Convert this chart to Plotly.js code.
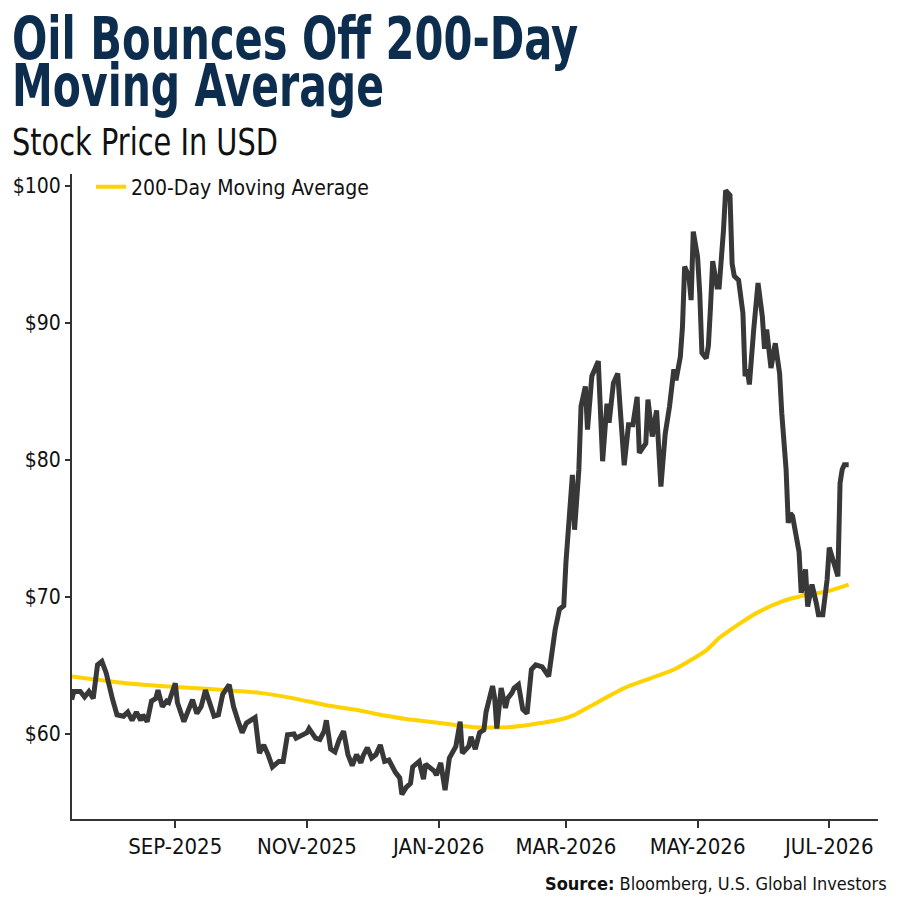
<!DOCTYPE html>
<html>
<head>
<meta charset="utf-8">
<script src="https://cdn.plot.ly/plotly-3.0.1.min.js"></script>
<style>
  html, body { margin: 0; padding: 0; background: #ffffff; }
  #chart { width: 900px; height: 900px; }
</style>
</head>
<body>
<div id="chart"></div>
<script>
// Daily oil price (USD) and its 200-day moving average
const priceDates = [
  '2025-07-15','2025-07-16','2025-07-19','2025-07-21','2025-07-23','2025-07-25','2025-07-27','2025-07-29','2025-07-31',
  '2025-08-02','2025-08-03','2025-08-05','2025-08-08','2025-08-10','2025-08-12','2025-08-14','2025-08-16','2025-08-17',
  '2025-08-19','2025-08-21','2025-08-23','2025-08-24','2025-08-26','2025-08-28','2025-08-29',
  '2025-09-01','2025-09-02','2025-09-05','2025-09-07','2025-09-09','2025-09-11','2025-09-13','2025-09-15','2025-09-17',
  '2025-09-19','2025-09-21','2025-09-23','2025-09-26','2025-09-28','2025-09-30',
  '2025-10-02','2025-10-04','2025-10-06','2025-10-08','2025-10-10','2025-10-12','2025-10-14','2025-10-16','2025-10-19',
  '2025-10-21','2025-10-23','2025-10-26','2025-10-27','2025-10-30',
  '2025-11-01','2025-11-02','2025-11-05','2025-11-07','2025-11-09','2025-11-10','2025-11-12','2025-11-14','2025-11-16',
  '2025-11-18','2025-11-20','2025-11-22','2025-11-24','2025-11-26','2025-11-27','2025-11-29',
  '2025-12-01','2025-12-03','2025-12-05','2025-12-07','2025-12-09','2025-12-12','2025-12-14','2025-12-15','2025-12-17',
  '2025-12-19','2025-12-20','2025-12-23','2025-12-25','2025-12-26','2025-12-28','2025-12-30','2025-12-31',
  '2026-01-02','2026-01-04','2026-01-06','2026-01-09','2026-01-11','2026-01-12','2026-01-15','2026-01-16','2026-01-18',
  '2026-01-20','2026-01-22','2026-01-23','2026-01-26','2026-01-27','2026-01-28','2026-01-30',
  '2026-02-01','2026-02-02','2026-02-04','2026-02-05','2026-02-07','2026-02-09','2026-02-11','2026-02-13','2026-02-15',
  '2026-02-18','2026-02-21','2026-02-24','2026-02-26','2026-02-28',
  '2026-03-01','2026-03-04','2026-03-05','2026-03-07','2026-03-08','2026-03-10','2026-03-11','2026-03-13','2026-03-16',
  '2026-03-18','2026-03-20','2026-03-21','2026-03-23','2026-03-25','2026-03-28','2026-03-30',
  '2026-04-01','2026-04-03','2026-04-04','2026-04-07','2026-04-08','2026-04-10','2026-04-12','2026-04-14','2026-04-16',
  '2026-04-18','2026-04-20','2026-04-21','2026-04-23','2026-04-24','2026-04-25','2026-04-27','2026-04-28','2026-04-29',
  '2026-05-01','2026-05-02','2026-05-03','2026-05-05','2026-05-06','2026-05-07','2026-05-08','2026-05-10','2026-05-11',
  '2026-05-13','2026-05-14','2026-05-16','2026-05-17','2026-05-18','2026-05-20','2026-05-22','2026-05-23','2026-05-24',
  '2026-05-25','2026-05-27','2026-05-29','2026-05-31',
  '2026-06-01','2026-06-02','2026-06-04','2026-06-06','2026-06-08','2026-06-09','2026-06-11','2026-06-12','2026-06-13',
  '2026-06-14','2026-06-16','2026-06-17','2026-06-18','2026-06-20','2026-06-21','2026-06-23','2026-06-25','2026-06-26',
  '2026-06-28','2026-06-30',
  '2026-07-01','2026-07-03','2026-07-05','2026-07-06','2026-07-07','2026-07-08','2026-07-10'
];
const priceValues = [
  62.5, 63.1, 63.1, 62.7, 63.1, 62.6, 65.05, 65.3, 64.45,
  62.9, 62.5, 61.4, 61.3, 61.6, 61.0, 61.6, 61.0, 61.4,
  60.9, 62.4, 62.6, 63.2, 62.0, 62.4, 62.3,
  63.7, 62.3, 60.9, 61.6, 62.5, 61.5, 62.0, 63.2, 62.3,
  61.3, 61.4, 62.9, 63.6, 62.0, 61.0,
  60.1, 60.8, 61.0, 61.2, 58.6, 59.2, 58.5, 57.6, 58.0,
  58.0, 59.95, 60.0, 59.7, 59.95,
  60.1, 60.4, 59.7, 59.6, 60.2, 61.0, 58.9, 58.7, 59.6,
  60.2, 58.5, 57.7, 58.5, 57.9, 58.4, 59.0,
  58.25, 58.5, 59.2, 58.0, 58.1, 57.2, 56.8, 55.6, 56.1,
  56.4, 57.6, 58.0, 56.7, 57.8, 57.5, 57.3, 57.0,
  57.9, 55.9, 58.25, 59.1, 60.9, 58.6, 59.1, 59.8, 58.9,
  60.1, 60.3, 61.6, 63.5, 62.6, 60.4, 63.35,
  61.9, 62.6, 63.0, 63.35, 63.6, 61.8, 61.5, 64.7, 65.05,
  64.9, 64.2, 67.6, 69.1, 69.35,
  72.5, 78.9, 74.9, 79.3, 83.9, 85.35, 82.2, 86.1, 87.2,
  79.9, 84.1, 82.7, 85.6, 86.3, 79.6, 82.55,
  82.55, 84.6, 80.5, 81.2, 84.4, 81.7, 83.6, 78.05, 81.9,
  83.9, 86.6, 85.8, 87.5, 89.7, 94.1, 93.35, 91.65, 96.65,
  94.8, 92.15, 87.8, 87.4, 88.3, 91.2, 94.5, 92.6, 92.6,
  96.75, 99.65, 99.3, 94.3, 93.4, 93.1, 90.7, 86.1, 86.6,
  85.5, 89.5, 92.9, 90.45,
  88.1, 89.5, 86.7, 88.5, 86.3, 83.4, 79.3, 75.4, 76.1,
  75.9, 73.9, 73.3, 70.3, 72.0, 69.3, 70.9, 69.55, 68.7,
  68.7, 71.25,
  73.6, 72.5, 71.5, 78.3, 79.3, 79.65, 79.65
];

const maDates = [
  '2025-07-15','2025-07-25','2025-08-09','2025-08-25','2025-09-09','2025-09-25','2025-10-10','2025-10-26',
  '2025-11-10','2025-11-26','2025-12-02','2025-12-17','2026-01-02','2026-01-17','2026-02-02','2026-02-09',
  '2026-02-17','2026-02-25','2026-03-05','2026-03-12','2026-03-28','2026-04-20','2026-05-05','2026-05-11',
  '2026-05-21','2026-05-28','2026-06-08','2026-06-19','2026-06-30','2026-07-10'
];
const maValues = [
  64.2, 64.0, 63.7, 63.5, 63.35, 63.2, 63.0, 62.6,
  62.1, 61.7, 61.5, 61.1, 60.8, 60.5, 60.5, 60.6,
  60.8, 61.0, 61.4, 62.0, 63.35, 64.7, 66.1, 67.0,
  68.1, 68.8, 69.6, 70.1, 70.4, 70.9
];

const monthTicks = ['2025-09-01','2025-11-01','2026-01-01','2026-03-01','2026-05-01','2026-07-01'];
const monthLabels = ['SEP-2025','NOV-2025','JAN-2026','MAR-2026','MAY-2026','JUL-2026'];
const priceTicks = [60, 70, 80, 90, 100];
const priceLabels = ['$60', '$70', '$80', '$90', '$100'];

const NARROW = '"Liberation Sans Narrow", "DejaVu Sans Condensed", "Roboto Condensed", "Arial Narrow", sans-serif';
const NAVY = '#0c2d4d';
const INK = '#111111';

const traces = [
  {
    x: maDates, y: maValues, type: 'scatter', mode: 'lines',
    name: '200-Day Moving Average',
    line: { color: '#FFD200', width: 4, shape: 'spline', smoothing: 0.6 },
    showlegend: true, hoverinfo: 'skip'
  },
  {
    x: priceDates, y: priceValues, type: 'scatter', mode: 'lines',
    name: 'Oil Price',
    line: { color: '#383838', width: 5, shape: 'linear' },
    showlegend: false, hoverinfo: 'skip'
  }
];

// margins place the plot area between x 72..878 and y 174..819
const M = { l: 72, r: 22, t: 174, b: 81 };
const PW = 900 - M.l - M.r, PH = 900 - M.t - M.b;
const px = v => (v - M.l) / PW;
const py = v => (900 - M.b - v) / PH;

// headline: two tightly set lines of condensed bold lettering
const HEAD_SIZE = 59;
const HEAD_LINE_GAP = 47;              // baseline-to-baseline distance
const HEAD_WIDTHS = [566, 372];        // set width of each headline line
const SUB_WIDTH = 266;                 // set width of the subtitle

const layout = {
  width: 900, height: 900,
  margin: M,
  paper_bgcolor: '#ffffff', plot_bgcolor: '#ffffff',
  showlegend: true,
  legend: {
    x: px(91), y: py(187), xanchor: 'left', yanchor: 'middle',
    bgcolor: 'rgba(0,0,0,0)', borderwidth: 0,
    font: { family: NARROW, size: 21, color: INK },
    itemwidth: 30
  },
  xaxis: {
    type: 'date',
    range: ['2025-07-15 04:00', '2026-07-23 14:00'],
    tickmode: 'array', tickvals: monthTicks, ticktext: monthLabels,
    ticks: 'outside', ticklen: 7, tickwidth: 2, tickcolor: '#333333',
    showline: true, linecolor: '#333333', linewidth: 2,
    showgrid: false, zeroline: false,
    tickfont: { family: NARROW, size: 22, color: INK },
    fixedrange: true
  },
  yaxis: {
    range: [53.8, 100.85],
    tickmode: 'array', tickvals: priceTicks, ticktext: priceLabels,
    ticks: 'outside', ticklen: 5, tickwidth: 2, tickcolor: '#333333',
    showline: true, linecolor: '#333333', linewidth: 2,
    showgrid: false, zeroline: false,
    tickfont: { family: NARROW, size: 21, color: INK },
    fixedrange: true
  },
  annotations: [
    {
      text: 'Oil Bounces Off 200-Day<br>Moving Average', xref: 'paper', yref: 'paper',
      x: px(10), y: py(2), xanchor: 'left', yanchor: 'top', align: 'left', showarrow: false,
      font: { family: NARROW, size: HEAD_SIZE, weight: 'bold', color: NAVY }
    },
    {
      text: 'Stock Price In USD', xref: 'paper', yref: 'paper',
      x: px(10), y: py(142.2), xanchor: 'left', yanchor: 'middle', align: 'left', showarrow: false,
      font: { family: NARROW, size: 37, color: INK }
    },
    {
      text: '<b>Source:</b> Bloomberg, U.S. Global Investors', xref: 'paper', yref: 'paper',
      x: px(889), y: py(883), xanchor: 'right', yanchor: 'middle', showarrow: false,
      font: { family: NARROW, size: 18, color: INK }
    }
  ]
};

Plotly.newPlot('chart', traces, layout, { displayModeBar: false, staticPlot: true }).then(gd => {
  const squeeze = (el, w) => {
    el.setAttribute('textLength', w);
    el.setAttribute('lengthAdjust', 'spacingAndGlyphs');
  };
  // headline: condensed set widths and a tight line gap
  const head = gd.querySelector('.annotation[data-index="0"] text.annotation-text');
  if (head) {
    const lines = head.querySelectorAll('tspan.line');
    if (lines.length === 2) {
      const dy0 = lines[0].getAttribute('dy') || '0';
      const first = dy0.indexOf('em') >= 0 ? parseFloat(dy0) * HEAD_SIZE : (parseFloat(dy0) || 0);
      lines[1].setAttribute('dy', first + HEAD_LINE_GAP);
      lines.forEach((ln, i) => squeeze(ln, HEAD_WIDTHS[i]));
    } else {
      squeeze(head, HEAD_WIDTHS[0]);
    }
  }
  const sub = gd.querySelector('.annotation[data-index="1"] text.annotation-text');
  if (sub) squeeze(sub, SUB_WIDTH);
});
</script>
</body>
</html>
